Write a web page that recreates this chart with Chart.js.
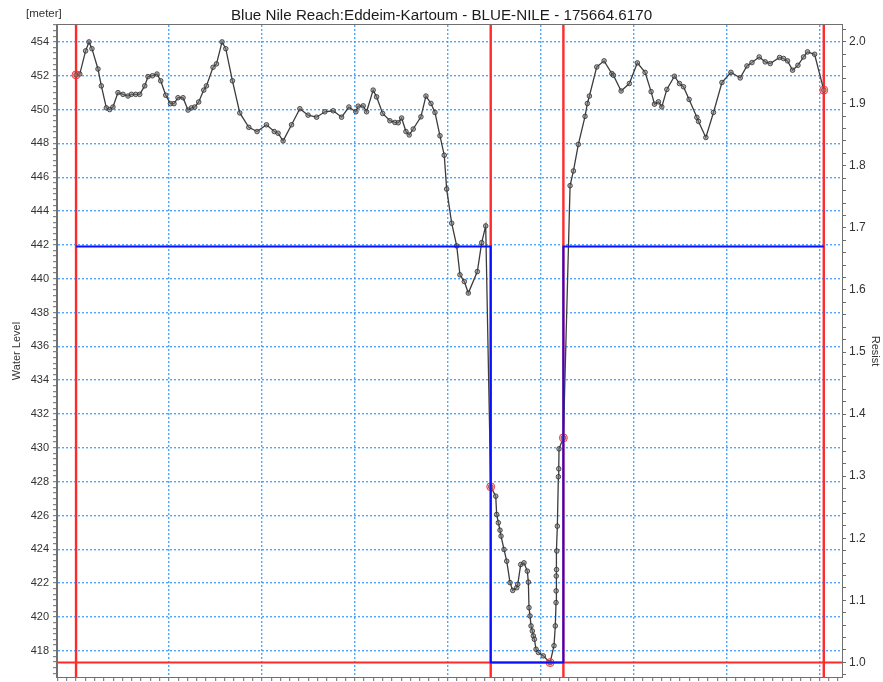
<!DOCTYPE html>
<html>
<head>
<meta charset="utf-8">
<script src="https://cdn.jsdelivr.net/npm/chart.js@4/dist/chart.umd.min.js"></script>
<style>
  html, body { margin: 0; padding: 0; background: #fff; }
  canvas { display: block; }
</style>
</head>
<body>
<canvas id="xs" width="883" height="682"></canvas>
<script>
// Cross-section 175664.6170 on the Blue Nile reach Eddeim-Kartoum

const chartTitle = 'Blue Nile Reach:Eddeim-Kartoum - BLUE-NILE - 175664.6170';

// Surveyed profile: station along the section (m) and bed level (m)
const stations = [
  0, 4, 10.3, 13.9, 17.1, 23.6, 27.2, 32.6, 36.2, 39.7,
  45.1, 50.5, 55.9, 59.6, 64.2, 68.5, 73.9, 77.4, 82.2, 87.1,
  91.1, 96.5, 101.6, 105.4, 109.7, 115.1, 120.5, 124.2, 127.7, 132.0,
  137.4, 140.3, 147.4, 151.1, 157.1, 161.1, 168.3, 176.2, 185.9, 194.8,
  204.9, 213.3, 217.4, 222.8, 231.9, 240.8, 249.7, 258.8, 267.7, 276.7,
  285.7, 293.6, 301.1, 303.6, 309.0, 312.6, 319.7, 323.4, 329.9, 337.7,
  343.1, 346.7, 350.3, 355.0, 358.5, 362.8, 371.1, 376.5, 381.9, 386.2,
  391.6, 396.2, 398.8, 404.2, 409.6, 413.1, 417.8, 422.1, 431.8, 436.5,
  440.8, 446.2, 451.6, 452.6, 454.4, 456.2, 457.3, 460.5, 463.4, 467.0,
  469.9, 474.2, 475.3, 478.5, 482.0, 485.6, 486.7, 487.4, 488.5, 489.6,
  491.0, 492.1, 493.2, 495.0, 497.5, 502.8, 510.1, 514.3, 515.7, 516.5,
  516.6, 516.7, 517.0, 517.3, 517.9, 519.0, 519.4, 519.7, 524.4, 531.6,
  535.2, 540.5, 547.7, 550.2, 552.4, 560.3, 568.2, 576.5, 578.2, 586.5,
  595.4, 604.0, 612.3, 618.8, 622.4, 626.7, 630.3, 635.7, 643.9, 649.3,
  653.6, 659.7, 668.0, 669.8, 677.7, 685.9, 695.0, 704.7, 714.7, 721.9,
  727.3, 735.1, 741.6, 747.0, 757.0, 761.3, 765.6, 771.0, 776.8, 782.8,
  787.1, 794.7, 804.6
];
const levels = [
  452.05, 452.1, 453.47, 454.0, 453.6, 452.4, 451.4, 450.1, 450.0, 450.15,
  451.0, 450.9, 450.8, 450.9, 450.9, 450.9, 451.4, 451.95, 452.0, 452.1,
  451.7, 450.85, 450.35, 450.35, 450.7, 450.7, 449.97, 450.1, 450.15, 450.45,
  451.15, 451.4, 452.5, 452.7, 454.0, 453.6, 451.7, 449.8, 448.95, 448.7,
  449.1, 448.7, 448.6, 448.15, 449.1, 450.05, 449.67, 449.55, 449.87, 449.93,
  449.55, 450.15, 449.87, 450.2, 450.22, 449.87, 451.15, 450.75, 449.77, 449.34,
  449.24, 449.22, 449.5, 448.7, 448.5, 448.85, 449.57, 450.8, 450.36, 449.83,
  448.45, 447.3, 445.3, 443.28, 441.94, 440.23, 439.83, 439.15, 440.42, 442.13,
  443.12, 427.7, 427.14, 426.06, 425.57, 425.13, 424.78, 423.99, 423.3, 422.03,
  421.57, 421.73, 421.93, 423.1, 423.2, 422.71, 422.06, 420.55, 420.06, 419.47,
  419.17, 418.88, 418.68, 418.09, 417.9, 417.7, 417.3, 418.3, 419.47, 420.85,
  421.54, 422.42, 422.8, 423.9, 425.37, 428.29, 428.76, 429.94, 430.59, 445.5,
  446.37, 447.94, 449.6, 450.36, 450.8, 452.52, 452.88, 452.13, 452.03, 451.1,
  451.54, 452.76, 452.2, 451.06, 450.32, 450.46, 450.16, 451.19, 451.97, 451.54,
  451.35, 450.6, 449.54, 449.3, 448.35, 449.83, 451.6, 452.2, 451.87, 452.58,
  452.78, 453.11, 452.82, 452.72, 453.08, 453.02, 452.88, 452.33, 452.62, 453.11,
  453.41, 453.27, 451.15
];

// Marker points (indices into the profile): 1, 4, 2, 5, 3
const markerIndex = [0, 81, 106, 118, 162];
const bankMarkerIndex = [0, 81, 118, 162];   // drawn as vertical lines
const lowestMarkerIndex = 106;               // drawn as horizontal line

// Relative resistance across the section
const resistStations = [0, 446.2, 446.2, 524.4, 524.4, 804.6];
const resistValues   = [1.67, 1.67, 1.0, 1.0, 1.67, 1.67];

// Axis ranges and labelled ticks
const stationRange = [-20.5, 824.2];
const levelRange   = [416.45, 455.0];
const resistRange  = [0.9765, 2.0268];
const levelTicks   = [418, 420, 422, 424, 426, 428, 430, 432, 434, 436, 438, 440,
                      442, 444, 446, 448, 450, 452, 454];
const resistTicks  = [1.0, 1.1, 1.2, 1.3, 1.4, 1.5, 1.6, 1.7, 1.8, 1.9, 2.0];

const FONT = '"Liberation Sans", Arial, Helvetica, sans-serif';
const GRID = 'rgba(60,155,255,0.9)';
const TICK = '#6a6a6a';
const TEXT = '#333';

const profile = stations.map((s, i) => ({ x: s, y: levels[i] }));
const markerPoints = markerIndex.map(i => ({ x: stations[i], y: levels[i] }));
const resistLine = resistStations.map((s, i) => ({ x: s, y: resistValues[i] }));

const bankLines = bankMarkerIndex.map(i => ({
  data: [{ x: stations[i], y: levelRange[0] }, { x: stations[i], y: levelRange[1] }],
  borderColor: '#ff2a2a', borderWidth: 2.4, pointRadius: 0, yAxisID: 'y', order: 5
}));
const lowestLine = {
  data: [{ x: stationRange[0], y: levels[lowestMarkerIndex] },
         { x: stationRange[1], y: levels[lowestMarkerIndex] }],
  borderColor: '#ff2a2a', borderWidth: 2, pointRadius: 0, yAxisID: 'y', order: 5
};

const near = (a, b) => Math.abs(a - b) < 1e-6;

function fixedBox(width, height) {
  return function (scale) {
    if (width !== null) scale.width = width;
    if (height !== null) scale.height = height;
    scale.paddingTop = 0; scale.paddingBottom = 0;
    scale.paddingLeft = 0; scale.paddingRight = 0;
  };
}

// Plot frame and unit label
const framePlugin = {
  id: 'frame',
  afterDraw(chart) {
    const { ctx, chartArea: a } = chart;
    ctx.save();
    ctx.strokeStyle = '#707070';
    ctx.lineWidth = 1;
    ctx.strokeRect(a.left - 0.5, a.top - 0.5, a.right - a.left + 1, a.bottom - a.top + 1);
    ctx.fillStyle = TEXT;
    ctx.font = '11.5px ' + FONT;
    ctx.textBaseline = 'alphabetic';
    ctx.textAlign = 'left';
    ctx.fillText('[meter]', 26, 17);
    ctx.restore();
  }
};

new Chart(document.getElementById('xs'), {
  type: 'line',
  data: {
    datasets: [
      {
        data: resistLine, yAxisID: 'y2', borderColor: '#0a10ff', borderWidth: 2,
        pointRadius: 0, order: 0
      },
      {
        data: markerPoints, yAxisID: 'y', showLine: false,
        pointRadius: 4, pointBackgroundColor: 'rgba(255,90,90,0.35)',
        pointBorderColor: 'rgba(235,40,40,0.85)', pointBorderWidth: 1, order: 1
      },
      {
        data: profile, yAxisID: 'y', borderColor: '#3c3c3c', borderWidth: 1.3,
        pointRadius: 2.3, pointBackgroundColor: 'rgba(120,120,120,0.55)',
        pointBorderColor: '#2d2d2d', pointBorderWidth: 0.8, order: 2
      },
      ...bankLines,
      lowestLine
    ]
  },
  options: {
    responsive: false,
    animation: false,
    devicePixelRatio: 1,
    layout: { padding: 0 },
    plugins: {
      legend: { display: false },
      tooltip: { enabled: false },
      title: {
        display: true, text: chartTitle, color: '#1c1c1c',
        font: { family: FONT, size: 15.2, weight: 'normal', lineHeight: 1.2 },
        padding: { top: 6.2, bottom: 0.56 }
      }
    },
    scales: {
      x: {
        type: 'linear', min: stationRange[0], max: stationRange[1],
        afterBuildTicks(scale) {
          const t = [];
          for (let k = Math.ceil(scale.min / 10); k * 10 <= scale.max; k++) t.push({ value: k * 10 });
          scale.ticks = t;
        },
        ticks: { display: false, autoSkip: false },
        grid: {
          color: c => (c.tick && near(c.tick.value % 100, 0)) ? GRID : 'rgba(0,0,0,0)',
          lineWidth: 1.4, tickLength: 4, tickColor: TICK, tickWidth: 1, tickBorderDash: []
        },
        border: { color: '#707070', width: 1, dash: [2, 2] },
        afterFit: fixedBox(null, 4)
      },
      y: {
        position: 'left', min: levelRange[0], max: levelRange[1],
        afterBuildTicks(scale) {
          const t = [];
          for (let k = Math.ceil(scale.min * 3); k / 3 <= scale.max; k++) t.push({ value: k / 3 });
          scale.ticks = t;
        },
        ticks: {
          autoSkip: false, padding: 4, color: TEXT,
          font: { family: FONT, size: 11 },
          callback: v => {
            const hit = levelTicks.find(l => near(l, v));
            return hit !== undefined ? String(hit) : '';
          }
        },
        grid: {
          color: c => (c.tick && levelTicks.some(l => near(l, c.tick.value))) ? GRID : 'rgba(0,0,0,0)',
          lineWidth: 1.4, tickLength: 4, tickColor: TICK, tickWidth: 1, tickBorderDash: []
        },
        border: { color: '#707070', width: 1, dash: [2, 2] },
        title: {
          display: true, text: 'Water Level', color: TEXT,
          font: { family: FONT, size: 11 }, padding: { top: 10, bottom: 0 }
        },
        afterFit: fixedBox(57, null)
      },
      y2: {
        position: 'right', min: resistRange[0], max: resistRange[1],
        afterBuildTicks(scale) {
          const t = [];
          for (let k = Math.ceil(scale.min * 50); k / 50 <= scale.max; k++) t.push({ value: k / 50 });
          scale.ticks = t;
        },
        ticks: {
          autoSkip: false, padding: 3, color: TEXT,
          font: { family: FONT, size: 12 },
          callback: v => {
            const hit = resistTicks.find(r => near(r, v));
            return hit !== undefined ? hit.toFixed(1) : '';
          }
        },
        grid: {
          drawOnChartArea: false, tickLength: 4, tickColor: TICK, tickWidth: 1
        },
        border: { color: '#707070', width: 1 },
        title: {
          display: true, text: 'Resist', color: TEXT,
          font: { family: FONT, size: 11 }, padding: { top: 1, bottom: 0 }
        },
        afterFit: fixedBox(41, null)
      }
    }
  },
  plugins: [framePlugin]
});
</script>
</body>
</html>
